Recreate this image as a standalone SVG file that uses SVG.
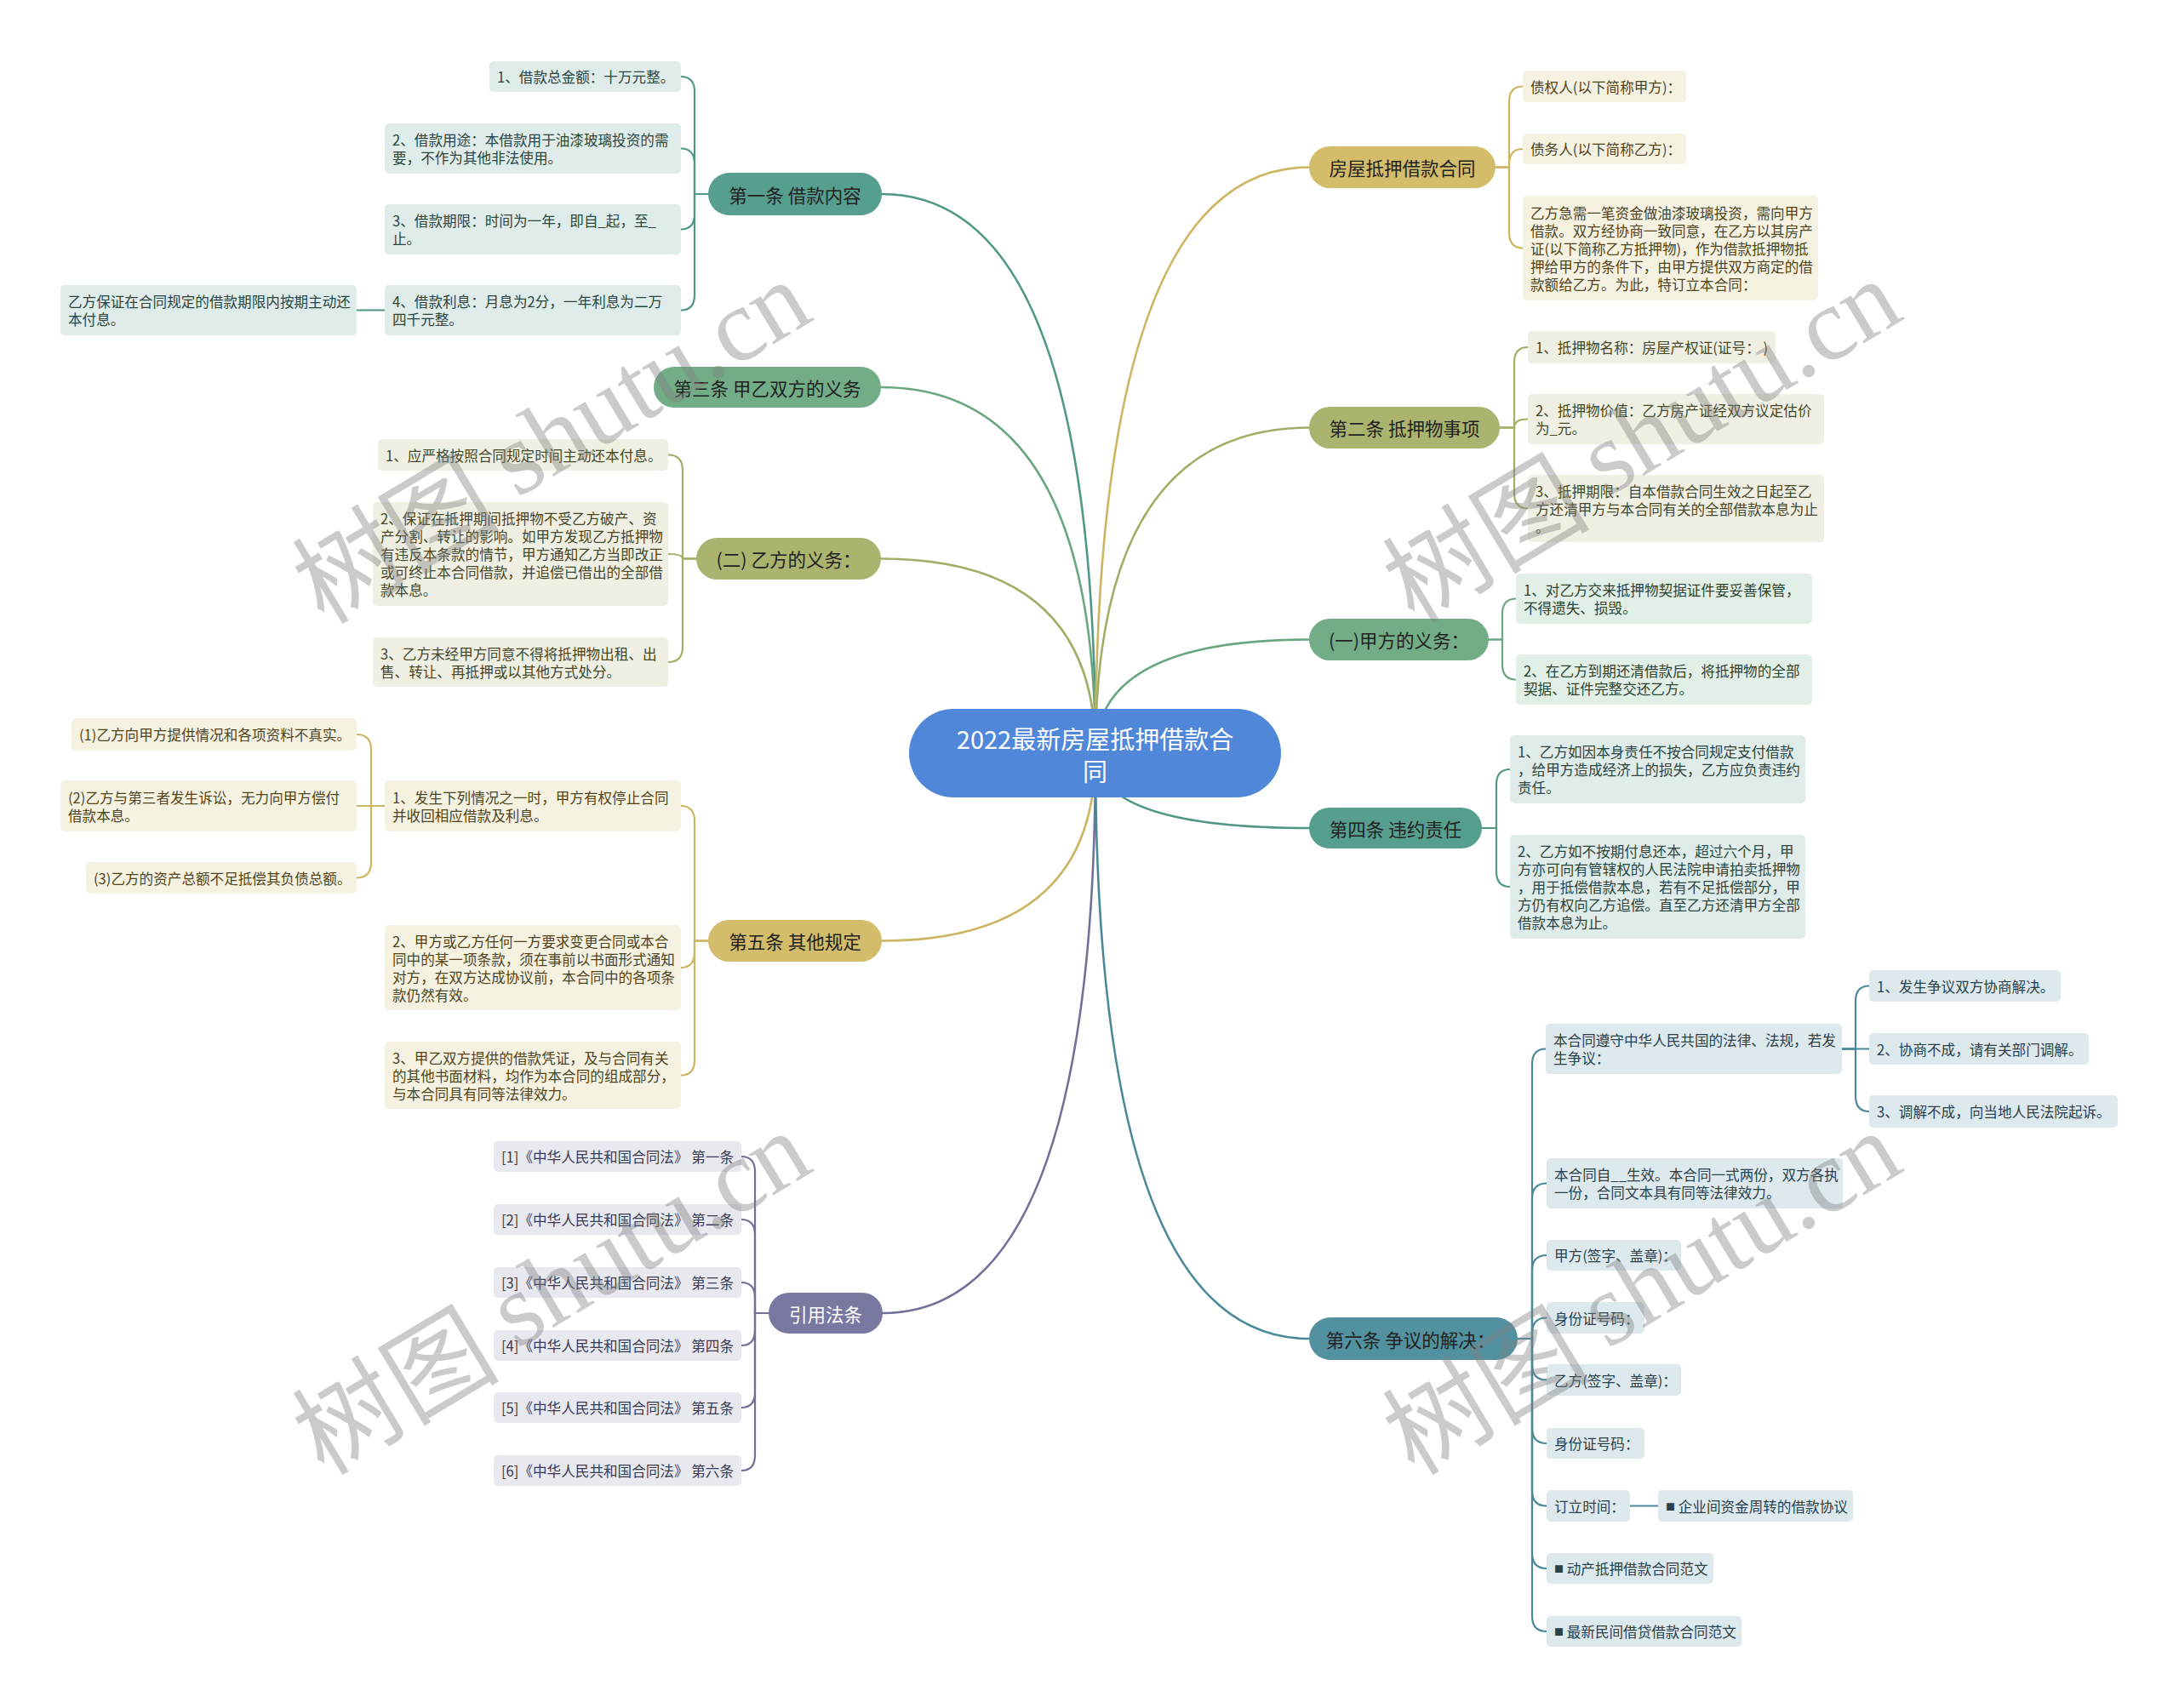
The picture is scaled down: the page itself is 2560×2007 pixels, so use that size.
<svg xmlns="http://www.w3.org/2000/svg" width="2560" height="2007" viewBox="0 0 2560 2007">
<style>
text{font-family:"Noto Sans CJK SC","Noto Sans",sans-serif;dominant-baseline:central}
.c{fill:none;stroke-width:2.2;stroke-linecap:round}
.mc{fill:none;stroke-width:2.6;stroke-linecap:round}
.mt{font-size:21.5px;fill:#222;text-anchor:middle}
.ct{font-size:16.6px}
.sq{font-size:11px}
.teal{fill:#569e8e}.tealS{stroke:#4f9787}.tealC{fill:#dfece9}.tealT{fill:#2d4540}
.green{fill:#73ad87}.greenS{stroke:#6aa67f}.greenC{fill:#e2efe6}.greenT{fill:#2c4433}
.olive{fill:#aab46e}.oliveS{stroke:#a2ad66}.oliveC{fill:#eff0e3}.oliveT{fill:#45472a}
.gold{fill:#d3bd6b}.goldS{stroke:#cdb663}.goldC{fill:#f6f2e2}.goldT{fill:#4f4420}
.purp{fill:#7878a0}.purpS{stroke:#707099}.purpC{fill:#e8e8ef}.purpT{fill:#3a3a50}
.blue{fill:#5291a0}.blueS{stroke:#4b8898}.blueC{fill:#dde9ed}.blueT{fill:#2b4049}
.wm{font-size:122px;fill:#808080;opacity:0.4;text-anchor:middle}
</style>
<rect width="2560" height="2007" fill="#ffffff"/>
<g id="connectors">
<path class="mc tealS" d="M1287,885 Q1287,228 1036,228"/>
<path class="mc greenS" d="M1287,885 Q1287,455 1035,455"/>
<path class="mc oliveS" d="M1287,885 Q1287,656.5 1035,656.5"/>
<path class="mc goldS" d="M1287,885 Q1287,1105.5 1036,1105.5"/>
<path class="mc purpS" d="M1287,885 Q1287,1543 1037,1543"/>
<path class="mc goldS" d="M1287,885 Q1287,196.5 1538,196.5"/>
<path class="mc oliveS" d="M1287,885 Q1287,502.5 1538,502.5"/>
<path class="mc greenS" d="M1287,885 Q1287,751.5 1538,751.5"/>
<path class="mc tealS" d="M1287,885 Q1287,973 1538,973"/>
<path class="mc blueS" d="M1287,885 Q1287,1573 1538,1573"/>
<path class="c tealS" d="M832,228 H816 V108 Q816,90 800,90"/>
<path class="c tealS" d="M832,228 H816 V192.5 Q816,174.5 800,174.5"/>
<path class="c tealS" d="M832,228 H816 V251.5 Q816,269.5 800,269.5"/>
<path class="c tealS" d="M832,228 H816 V346.5 Q816,364.5 800,364.5"/>
<path class="c tealS" d="M452,364.5 H419"/>
<path class="c oliveS" d="M818,656.5 H802 V552.5 Q802,534.5 785,534.5"/>
<path class="c oliveS" d="M818,656.5 H802 Q802,651 785,651"/>
<path class="c oliveS" d="M818,656.5 H802 V760 Q802,778 785,778"/>
<path class="c goldS" d="M832,1105.5 H816 V965 Q816,947 800,947"/>
<path class="c goldS" d="M832,1105.5 H816 V1119 Q816,1137 800,1137"/>
<path class="c goldS" d="M832,1105.5 H816 V1245.5 Q816,1263.5 800,1263.5"/>
<path class="c goldS" d="M452,947 H436 V881 Q436,863 419,863"/>
<path class="c goldS" d="M452,947 H419"/>
<path class="c goldS" d="M452,947 H436 V1013.5 Q436,1031.5 419,1031.5"/>
<path class="c purpS" d="M903,1543 H887 V1377 Q887,1359 871,1359"/>
<path class="c purpS" d="M903,1543 H887 V1451 Q887,1433 871,1433"/>
<path class="c purpS" d="M903,1543 H887 V1525 Q887,1507 871,1507"/>
<path class="c purpS" d="M903,1543 H887 V1563 Q887,1581 871,1581"/>
<path class="c purpS" d="M903,1543 H887 V1636 Q887,1654 871,1654"/>
<path class="c purpS" d="M903,1543 H887 V1710 Q887,1728 871,1728"/>
<path class="c goldS" d="M1757,196.5 H1773 V119.5 Q1773,101.5 1789,101.5"/>
<path class="c goldS" d="M1757,196.5 H1773 V193 Q1773,175 1789,175"/>
<path class="c goldS" d="M1757,196.5 H1773 V273.5 Q1773,291.5 1789,291.5"/>
<path class="c oliveS" d="M1762,502.5 H1779 V426 Q1779,408 1795,408"/>
<path class="c oliveS" d="M1762,502.5 H1779 Q1779,492.5 1795,492.5"/>
<path class="c oliveS" d="M1762,502.5 H1779 V579.5 Q1779,597.5 1795,597.5"/>
<path class="c greenS" d="M1749,751.5 H1765 V721.5 Q1765,703.5 1781,703.5"/>
<path class="c greenS" d="M1749,751.5 H1765 V780.5 Q1765,798.5 1781,798.5"/>
<path class="c tealS" d="M1741,973 H1758 V922 Q1758,904 1774,904"/>
<path class="c tealS" d="M1741,973 H1758 V1024 Q1758,1042 1774,1042"/>
<path class="c blueS" d="M1783,1573 H1800 V1250.5 Q1800,1232.5 1816,1232.5"/>
<path class="c blueS" d="M1783,1573 H1800 V1408.5 Q1800,1390.5 1817,1390.5"/>
<path class="c blueS" d="M1783,1573 H1800 V1493 Q1800,1475 1817,1475"/>
<path class="c blueS" d="M1783,1573 H1800 V1566.5 Q1800,1548.5 1817,1548.5"/>
<path class="c blueS" d="M1783,1573 H1800 V1603.5 Q1800,1621.5 1817,1621.5"/>
<path class="c blueS" d="M1783,1573 H1800 V1678 Q1800,1696 1817,1696"/>
<path class="c blueS" d="M1783,1573 H1800 V1751.5 Q1800,1769.5 1817,1769.5"/>
<path class="c blueS" d="M1783,1573 H1800 V1825 Q1800,1843 1817,1843"/>
<path class="c blueS" d="M1783,1573 H1800 V1899 Q1800,1917 1817,1917"/>
<path class="c blueS" d="M2164,1232.5 H2180 V1176.5 Q2180,1158.5 2196,1158.5"/>
<path class="c blueS" d="M2164,1232.5 H2196"/>
<path class="c blueS" d="M2164,1232.5 H2180 V1288 Q2180,1306 2196,1306"/>
<path class="c blueS" d="M1915,1769.5 H1948"/>
</g>

<g id="root">
<rect x="1068" y="833" width="437" height="104" rx="52" fill="#5087d9"/>
<text x="1286.5" y="867" font-size="29" fill="#ffffff" text-anchor="middle">2022最新房屋抵押借款合</text>
<text x="1286.5" y="905" font-size="29" fill="#ffffff" text-anchor="middle">同</text>
</g>

<!-- Left: 第一条 -->
<g id="n-l1"><rect class="teal" x="832" y="203" width="204" height="50" rx="25"/><text class="mt" x="934" y="228">第一条 借款内容</text></g>
<g id="n-l1-1"><rect class="tealC" x="575" y="72" width="225" height="36" rx="5"/><text class="ct tealT" x="584" y="90">1、借款总金额：十万元整。</text></g>
<g id="n-l1-2"><rect class="tealC" x="452" y="145" width="348" height="59" rx="5"/><text class="ct tealT" x="461" y="164">2、借款用途：本借款用于油漆玻璃投资的需</text><text class="ct tealT" x="461" y="185">要，不作为其他非法使用。</text></g>
<g id="n-l1-3"><rect class="tealC" x="452" y="240" width="348" height="59" rx="5"/><text class="ct tealT" x="461" y="259">3、借款期限：时间为一年，即自_起，至_</text><text class="ct tealT" x="461" y="280">止。</text></g>
<g id="n-l1-4"><rect class="tealC" x="452" y="335" width="348" height="59" rx="5"/><text class="ct tealT" x="461" y="354">4、借款利息：月息为2分，一年利息为二万</text><text class="ct tealT" x="461" y="375">四千元整。</text></g>
<g id="n-l1-4-1"><rect class="tealC" x="71" y="335" width="348" height="59" rx="5"/><text class="ct tealT" x="80" y="354">乙方保证在合同规定的借款期限内按期主动还</text><text class="ct tealT" x="80" y="375">本付息。</text></g>

<!-- Left: 第三条 -->
<g id="n-l2"><rect class="green" x="768" y="431" width="267" height="48" rx="24"/><text class="mt" x="901.5" y="455">第三条 甲乙双方的义务</text></g>

<!-- Left: (二) -->
<g id="n-l3"><rect class="olive" x="818" y="632" width="217" height="49" rx="24.5"/><text class="mt" x="926.5" y="656.5">(二) 乙方的义务：</text></g>
<g id="n-l3-1"><rect class="oliveC" x="444" y="516" width="341" height="37" rx="5"/><text class="ct oliveT" x="453" y="534.5">1、应严格按照合同规定时间主动还本付息。</text></g>
<g id="n-l3-2"><rect class="oliveC" x="438" y="590" width="347" height="122" rx="5"/>
<text class="ct oliveT" x="447" y="609">2、保证在抵押期间抵押物不受乙方破产、资</text>
<text class="ct oliveT" x="447" y="630">产分割、转让的影响。如甲方发现乙方抵押物</text>
<text class="ct oliveT" x="447" y="651">有违反本条款的情节，甲方通知乙方当即改正</text>
<text class="ct oliveT" x="447" y="672">或可终止本合同借款，并追偿已借出的全部借</text>
<text class="ct oliveT" x="447" y="693">款本息。</text></g>
<g id="n-l3-3"><rect class="oliveC" x="438" y="749" width="347" height="58" rx="5"/><text class="ct oliveT" x="447" y="767.5">3、乙方未经甲方同意不得将抵押物出租、出</text><text class="ct oliveT" x="447" y="788.5">售、转让、再抵押或以其他方式处分。</text></g>

<!-- Left: 第五条 -->
<g id="n-l4"><rect class="gold" x="832" y="1081" width="204" height="49" rx="24.5"/><text class="mt" x="934" y="1105.5">第五条 其他规定</text></g>
<g id="n-l4-1"><rect class="goldC" x="452" y="917" width="348" height="60" rx="5"/><text class="ct goldT" x="461" y="936.5">1、发生下列情况之一时，甲方有权停止合同</text><text class="ct goldT" x="461" y="957.5">并收回相应借款及利息。</text></g>
<g id="n-l4-1-1"><rect class="goldC" x="84" y="844" width="335" height="38" rx="5"/><text class="ct goldT" x="93" y="863">(1)乙方向甲方提供情况和各项资料不真实。</text></g>
<g id="n-l4-1-2"><rect class="goldC" x="71" y="917" width="348" height="60" rx="5"/><text class="ct goldT" x="80" y="936.5">(2)乙方与第三者发生诉讼，无力向甲方偿付</text><text class="ct goldT" x="80" y="957.5">借款本息。</text></g>
<g id="n-l4-1-3"><rect class="goldC" x="101" y="1013" width="318" height="37" rx="5"/><text class="ct goldT" x="110" y="1031.5">(3)乙方的资产总额不足抵偿其负债总额。</text></g>
<g id="n-l4-2"><rect class="goldC" x="452" y="1087" width="348" height="100" rx="5"/>
<text class="ct goldT" x="461" y="1105.5">2、甲方或乙方任何一方要求变更合同或本合</text>
<text class="ct goldT" x="461" y="1126.5">同中的某一项条款，须在事前以书面形式通知</text>
<text class="ct goldT" x="461" y="1147.5">对方，在双方达成协议前，本合同中的各项条</text>
<text class="ct goldT" x="461" y="1168.5">款仍然有效。</text></g>
<g id="n-l4-3"><rect class="goldC" x="452" y="1224" width="348" height="79" rx="5"/>
<text class="ct goldT" x="461" y="1242.5">3、甲乙双方提供的借款凭证，及与合同有关</text>
<text class="ct goldT" x="461" y="1263.5">的其他书面材料，均作为本合同的组成部分，</text>
<text class="ct goldT" x="461" y="1284.5">与本合同具有同等法律效力。</text></g>

<!-- Left: 引用法条 -->
<g id="n-l5"><rect class="purp" x="903" y="1519" width="134" height="48" rx="24"/><text class="mt" x="970" y="1543" fill="#ffffff" style="fill:#ffffff">引用法条</text></g>
<g id="n-l5-1"><rect class="purpC" x="580" y="1341" width="291" height="36" rx="5"/><text class="ct purpT" x="589" y="1359">[1]《中华人民共和国合同法》 第一条</text></g>
<g id="n-l5-2"><rect class="purpC" x="580" y="1415" width="291" height="36" rx="5"/><text class="ct purpT" x="589" y="1433">[2]《中华人民共和国合同法》 第二条</text></g>
<g id="n-l5-3"><rect class="purpC" x="580" y="1489" width="291" height="36" rx="5"/><text class="ct purpT" x="589" y="1507">[3]《中华人民共和国合同法》 第三条</text></g>
<g id="n-l5-4"><rect class="purpC" x="580" y="1563" width="291" height="36" rx="5"/><text class="ct purpT" x="589" y="1581">[4]《中华人民共和国合同法》 第四条</text></g>
<g id="n-l5-5"><rect class="purpC" x="580" y="1636" width="291" height="36" rx="5"/><text class="ct purpT" x="589" y="1654">[5]《中华人民共和国合同法》 第五条</text></g>
<g id="n-l5-6"><rect class="purpC" x="580" y="1710" width="291" height="36" rx="5"/><text class="ct purpT" x="589" y="1728">[6]《中华人民共和国合同法》 第六条</text></g>

<!-- Right: 房屋抵押借款合同 -->
<g id="n-r1"><rect class="gold" x="1538" y="172" width="219" height="49" rx="24.5"/><text class="mt" x="1647.5" y="196.5">房屋抵押借款合同</text></g>
<g id="n-r1-1"><rect class="goldC" x="1789" y="83" width="192" height="37" rx="5"/><text class="ct goldT" x="1798" y="101.5">债权人(以下简称甲方)：</text></g>
<g id="n-r1-2"><rect class="goldC" x="1789" y="157" width="192" height="36" rx="5"/><text class="ct goldT" x="1798" y="175">债务人(以下简称乙方)：</text></g>
<g id="n-r1-3"><rect class="goldC" x="1789" y="230" width="347" height="123" rx="5"/>
<text class="ct goldT" x="1798" y="249.5">乙方急需一笔资金做油漆玻璃投资，需向甲方</text>
<text class="ct goldT" x="1798" y="270.5">借款。双方经协商一致同意，在乙方以其房产</text>
<text class="ct goldT" x="1798" y="291.5">证(以下简称乙方抵押物)，作为借款抵押物抵</text>
<text class="ct goldT" x="1798" y="312.5">押给甲方的条件下，由甲方提供双方商定的借</text>
<text class="ct goldT" x="1798" y="333.5">款额给乙方。为此，特订立本合同：</text></g>

<!-- Right: 第二条 -->
<g id="n-r2"><rect class="olive" x="1538" y="478" width="224" height="49" rx="24.5"/><text class="mt" x="1650" y="502.5">第二条 抵押物事项</text></g>
<g id="n-r2-1"><rect class="oliveC" x="1795" y="389" width="291" height="38" rx="5"/><text class="ct oliveT" x="1804" y="408">1、抵押物名称：房屋产权证(证号：  )</text></g>
<g id="n-r2-2"><rect class="oliveC" x="1795" y="463" width="348" height="59" rx="5"/><text class="ct oliveT" x="1804" y="482">2、抵押物价值：乙方房产证经双方议定估价</text><text class="ct oliveT" x="1804" y="503">为_元。</text></g>
<g id="n-r2-3"><rect class="oliveC" x="1795" y="558" width="348" height="79" rx="5"/>
<text class="ct oliveT" x="1804" y="576.5">3、抵押期限：自本借款合同生效之日起至乙</text>
<text class="ct oliveT" x="1804" y="597.5">方还清甲方与本合同有关的全部借款本息为止</text>
<text class="ct oliveT" x="1804" y="618.5">。</text></g>

<!-- Right: (一) -->
<g id="n-r3"><rect class="green" x="1538" y="727" width="211" height="49" rx="24.5"/><text class="mt" x="1643.5" y="751.5">(一)甲方的义务：</text></g>
<g id="n-r3-1"><rect class="greenC" x="1781" y="674" width="348" height="59" rx="5"/><text class="ct greenT" x="1790" y="693">1、对乙方交来抵押物契据证件要妥善保管，</text><text class="ct greenT" x="1790" y="714">不得遗失、损毁。</text></g>
<g id="n-r3-2"><rect class="greenC" x="1781" y="769" width="348" height="59" rx="5"/><text class="ct greenT" x="1790" y="788">2、在乙方到期还清借款后，将抵押物的全部</text><text class="ct greenT" x="1790" y="809">契据、证件完整交还乙方。</text></g>

<!-- Right: 第四条 -->
<g id="n-r4"><rect class="teal" x="1538" y="949" width="203" height="48" rx="24"/><text class="mt" x="1639.5" y="973">第四条 违约责任</text></g>
<g id="n-r4-1"><rect class="tealC" x="1774" y="864" width="347" height="80" rx="5"/>
<text class="ct tealT" x="1783" y="883">1、乙方如因本身责任不按合同规定支付借款</text>
<text class="ct tealT" x="1783" y="904">，给甲方造成经济上的损失，乙方应负责违约</text>
<text class="ct tealT" x="1783" y="925">责任。</text></g>
<g id="n-r4-2"><rect class="tealC" x="1774" y="981" width="347" height="122" rx="5"/>
<text class="ct tealT" x="1783" y="1000">2、乙方如不按期付息还本，超过六个月，甲</text>
<text class="ct tealT" x="1783" y="1021">方亦可向有管辖权的人民法院申请拍卖抵押物</text>
<text class="ct tealT" x="1783" y="1042">，用于抵偿借款本息，若有不足抵偿部分，甲</text>
<text class="ct tealT" x="1783" y="1063">方仍有权向乙方追偿。直至乙方还清甲方全部</text>
<text class="ct tealT" x="1783" y="1084">借款本息为止。</text></g>

<!-- Right: 第六条 -->
<g id="n-r5"><rect class="blue" x="1538" y="1548" width="245" height="50" rx="25"/><text class="mt" x="1657" y="1573">第六条 争议的解决：</text></g>
<g id="n-r5-1"><rect class="blueC" x="1816" y="1203" width="348" height="59" rx="5"/><text class="ct blueT" x="1825" y="1222">本合同遵守中华人民共国的法律、法规，若发</text><text class="ct blueT" x="1825" y="1243">生争议：</text></g>
<g id="n-r5-1-1"><rect class="blueC" x="2196" y="1140" width="225" height="37" rx="5"/><text class="ct blueT" x="2205" y="1158.5">1、发生争议双方协商解决。</text></g>
<g id="n-r5-1-2"><rect class="blueC" x="2196" y="1214" width="258" height="37" rx="5"/><text class="ct blueT" x="2205" y="1232.5">2、协商不成，请有关部门调解。</text></g>
<g id="n-r5-1-3"><rect class="blueC" x="2196" y="1287" width="292" height="38" rx="5"/><text class="ct blueT" x="2205" y="1306">3、调解不成，向当地人民法院起诉。</text></g>
<g id="n-r5-2"><rect class="blueC" x="1817" y="1361" width="348" height="59" rx="5"/><text class="ct blueT" x="1826" y="1380">本合同自__生效。本合同一式两份，双方各执</text><text class="ct blueT" x="1826" y="1401">一份，合同文本具有同等法律效力。</text></g>
<g id="n-r5-3"><rect class="blueC" x="1817" y="1457" width="158" height="36" rx="5"/><text class="ct blueT" x="1826" y="1475">甲方(签字、盖章)：</text></g>
<g id="n-r5-4"><rect class="blueC" x="1817" y="1530" width="115" height="37" rx="5"/><text class="ct blueT" x="1826" y="1548.5">身份证号码：</text></g>
<g id="n-r5-5"><rect class="blueC" x="1817" y="1603" width="158" height="37" rx="5"/><text class="ct blueT" x="1826" y="1621.5">乙方(签字、盖章)：</text></g>
<g id="n-r5-6"><rect class="blueC" x="1817" y="1678" width="115" height="36" rx="5"/><text class="ct blueT" x="1826" y="1696">身份证号码：</text></g>
<g id="n-r5-7"><rect class="blueC" x="1817" y="1751" width="98" height="37" rx="5"/><text class="ct blueT" x="1826" y="1769.5">订立时间：</text></g>
<g id="n-r5-7-1"><rect class="blueC" x="1948" y="1751" width="229" height="37" rx="5"/><text class="ct blueT" x="1957" y="1769.5"><tspan class="sq">■</tspan> 企业间资金周转的借款协议</text></g>
<g id="n-r5-8"><rect class="blueC" x="1817" y="1825" width="196" height="36" rx="5"/><text class="ct blueT" x="1826" y="1843"><tspan class="sq">■</tspan> 动产抵押借款合同范文</text></g>
<g id="n-r5-9"><rect class="blueC" x="1817" y="1899" width="229" height="36" rx="5"/><text class="ct blueT" x="1826" y="1917"><tspan class="sq">■</tspan> 最新民间借贷借款合同范文</text></g>

<g id="watermark">
<text class="wm" x="645" y="514" transform="rotate(-31 645 514)">树图 <tspan font-family="Liberation Serif">shutu.cn</tspan></text>
<text class="wm" x="1926" y="513" transform="rotate(-31 1926 513)">树图 <tspan font-family="Liberation Serif">shutu.cn</tspan></text>
<text class="wm" x="645" y="1514" transform="rotate(-31 645 1514)">树图 <tspan font-family="Liberation Serif">shutu.cn</tspan></text>
<text class="wm" x="1926" y="1514" transform="rotate(-31 1926 1514)">树图 <tspan font-family="Liberation Serif">shutu.cn</tspan></text>
</g>
</svg>
